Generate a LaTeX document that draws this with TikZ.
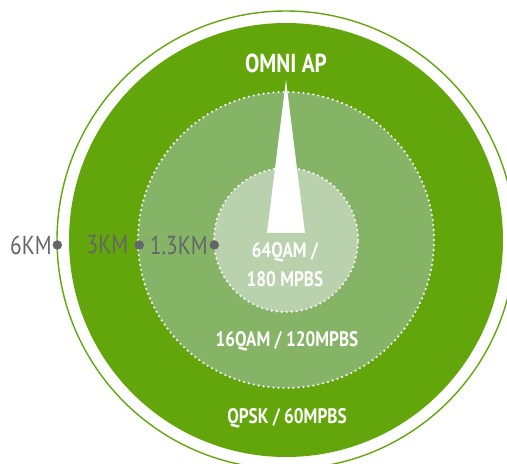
\documentclass[tikz,border=0pt]{standalone}
\usepackage{fontspec}
\setmainfont{PT Sans}
\newfontfamily\zonefont[FakeStretch=0.82]{PT Sans}
\usetikzlibrary{math,positioning}

\definecolor{apgreen}{HTML}{62A60B}
\definecolor{midgreen}{HTML}{86B466}
\definecolor{ingreen}{HTML}{BAD1AE}
\definecolor{kmgray}{HTML}{646569}

\tikzset{
    zone/.style = {circle, inner sep = 0pt},
    dotring/.style = {draw = white, line width = 2.4pt, line cap = round,
                      dash pattern = on 0pt off 5pt},
    kmdot/.style = {circle, fill = kmgray, inner sep = 0pt, minimum size = 9.5pt},
    kmlabel/.style = {text = kmgray, inner sep = 0pt,
                      font = \zonefont\fontsize{26}{28}\selectfont},
    zonetext/.style = {text = white, align = center,
                       font = \zonefont\bfseries\fontsize{21}{29}\selectfont},
}

\begin{document}
\begin{tikzpicture}[x=1pt, y=1pt]
    \tikzmath{
        \cx = 286;
        \cy = 224;
        \rout = 229;
        \rfar = 217;
        \rmid = 148;
        \rin = 72;
        \ydot = 219;
    }

\useasboundingbox (0,0) rectangle (507,464);

% anillos de cobertura
\node[zone, draw = apgreen, line width = 1.4pt, minimum size = 2*\rout] (ring) at (\cx,\cy) {};
\node[zone, fill = apgreen, minimum size = 2*\rfar] (far) at (ring.center) {};
\node[zone, fill = midgreen, dotring, minimum size = 2*\rmid] (mid) at (ring.center) {};
\node[zone, fill = ingreen, dotring, minimum size = 2*\rin] (near) at (ring.center) {};

% antena
\fill[white] (\cx-19, 231) -- (\cx, 384) -- (\cx+19, 231) -- cycle;
\node[text = white, font = \zonefont\bfseries\fontsize{26}{28}\selectfont] (ap) at (\cx, 401) {OMNI AP};

% modulaciones
\node[zonetext] (qam64) at (\cx-1, 199) {64QAM /\\180 MPBS};
\node[zonetext] (qam16) at (\cx+1, 123) {16QAM / 120MPBS};
\node[zonetext] (qpsk) at (\cx+1, 46) {QPSK / 60MPBS};

% distancias
\node[kmdot] (d6) at (57.3, \ydot) {};
\node[kmdot] (d3) at (139.3, \ydot) {};
\node[kmdot] (d13) at (214.3, \ydot) {};

\node[kmlabel, left = 0.5pt of d6] (l6) {6KM};
\node[kmlabel, left = 6pt of d3] (l3) {3KM};
\node[kmlabel, left = 1.5pt of d13] (l13) {1.3KM};

\end{tikzpicture}
\end{document}
